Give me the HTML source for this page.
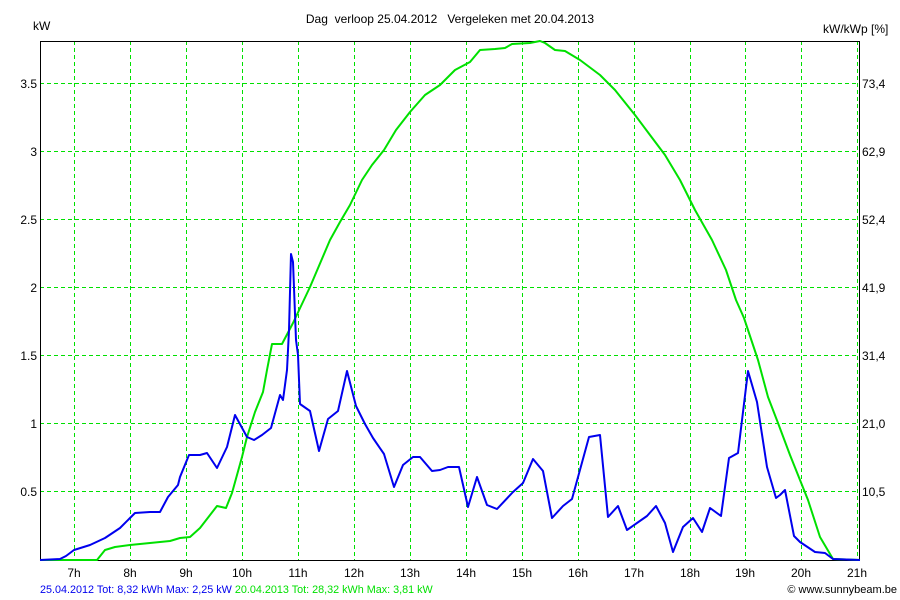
<!DOCTYPE html>
<html><head><style>
html,body{margin:0;padding:0;background:#fff;}
svg{display:block;font-family:"Liberation Sans",Arial,sans-serif;}
text{white-space:pre;}
</style></head><body>
<svg width="900" height="600" viewBox="0 0 900 600" xml:space="preserve">
<rect width="900" height="600" fill="#fff"/>
<g stroke="#00e000" stroke-width="1" stroke-dasharray="4,3" fill="none">
<line x1="74.5" y1="41" x2="74.5" y2="560"/>
<line x1="130.5" y1="41" x2="130.5" y2="560"/>
<line x1="186.5" y1="41" x2="186.5" y2="560"/>
<line x1="242.5" y1="41" x2="242.5" y2="560"/>
<line x1="298.5" y1="41" x2="298.5" y2="560"/>
<line x1="354.5" y1="41" x2="354.5" y2="560"/>
<line x1="410.5" y1="41" x2="410.5" y2="560"/>
<line x1="466.5" y1="41" x2="466.5" y2="560"/>
<line x1="522.5" y1="41" x2="522.5" y2="560"/>
<line x1="578.5" y1="41" x2="578.5" y2="560"/>
<line x1="634.5" y1="41" x2="634.5" y2="560"/>
<line x1="690.5" y1="41" x2="690.5" y2="560"/>
<line x1="745.5" y1="41" x2="745.5" y2="560"/>
<line x1="801.5" y1="41" x2="801.5" y2="560"/>
<line x1="857.5" y1="41" x2="857.5" y2="560"/>
<line x1="40" y1="83.5" x2="860" y2="83.5"/>
<line x1="40" y1="151.5" x2="860" y2="151.5"/>
<line x1="40" y1="219.5" x2="860" y2="219.5"/>
<line x1="40" y1="287.5" x2="860" y2="287.5"/>
<line x1="40" y1="355.5" x2="860" y2="355.5"/>
<line x1="40" y1="423.5" x2="860" y2="423.5"/>
<line x1="40" y1="491.5" x2="860" y2="491.5"/>
</g>
<rect x="40.5" y="41.5" width="819" height="519" fill="none" stroke="#000" stroke-width="1"/>
<polyline fill="none" stroke="#00e000" stroke-width="2" stroke-linejoin="round" points="40,560 97,560 105,550 115,547 130,545 150,543 170,541 180,538 190,537 200,528 217,506 226,508 232,493 242,457 247,437 255,412 263,392 267,370 272,344 282,344 293,323 310,287 330,240 340,222 350,205 362,180 372,165 384,150 396,130 410,112 425,95 440,85 455,70 470,62 480,50 495,49 505,48 512,44 530,43 540,41 545,43 555,50 565,51 580,60 600,75 615,90 635,115 650,135 665,155 680,180 695,210 712,240 726,270 736,300 744,318 758,360 768,397 778,423 790,455 800,480 808,500 820,537 833,559 860,560"/>
<polyline fill="none" stroke="#0000ee" stroke-width="2" stroke-linejoin="round" points="40,560 60,559 66,556 74,550 90,545 105,538 120,528 130,518 135,513 150,512 160,512 168,497 178,485 180,477 189,455 200,455 207,453 217,468 227,447 235,415 247,437 254,440 262,435 271,428 280,395 283,400 287,370 289,330 291,254 293,262 296,340 298,355 300,404 310,411 319,451 328,419 338,411 347,371 356,406 365,424 373,438 384,454 394,487 403,465 413,457 420,457 432,471 440,470 448,467 459,467 468,507 477,477 487,505 497,509 513,492 523,483 533,459 543,471 552,518 563,506 572,499 589,437 600,435 608,517 618,506 627,530 647,516 656,506 665,523 673,552 683,527 693,518 702,532 710,508 721,516 729,458 738,453 748,371 757,402 767,467 776,498 780,495 785,490 794,536 800,542 815,552 825,553 833,559 860,560"/>
<g font-size="12" fill="#000">
<text x="33" y="30">kW</text>
<text x="823" y="33">kW/kWp [%]</text>
<text x="450" y="23" text-anchor="middle">Dag  verloop 25.04.2012   Vergeleken met 20.04.2013</text>
<g text-anchor="end">
<text x="37" y="88">3.5</text>
<text x="37" y="156">3</text>
<text x="37" y="224">2.5</text>
<text x="37" y="292">2</text>
<text x="37" y="360">1.5</text>
<text x="37" y="428">1</text>
<text x="37" y="496">0.5</text>
</g>
<g>
<text x="862" y="88">73,4</text>
<text x="862" y="156">62,9</text>
<text x="862" y="224">52,4</text>
<text x="862" y="292">41,9</text>
<text x="862" y="360">31,4</text>
<text x="862" y="428">21,0</text>
<text x="862" y="496">10,5</text>
</g>
<g text-anchor="middle">
<text x="74" y="577">7h</text>
<text x="130" y="577">8h</text>
<text x="186" y="577">9h</text>
<text x="242" y="577">10h</text>
<text x="298" y="577">11h</text>
<text x="354" y="577">12h</text>
<text x="410" y="577">13h</text>
<text x="466" y="577">14h</text>
<text x="522" y="577">15h</text>
<text x="578" y="577">16h</text>
<text x="634" y="577">17h</text>
<text x="690" y="577">18h</text>
<text x="745" y="577">19h</text>
<text x="801" y="577">20h</text>
<text x="857" y="577">21h</text>
</g>
</g>
<text x="40" y="593" font-size="10.8" fill="#0000ee">25.04.2012 Tot: 8,32 kWh Max: 2,25 kW <tspan fill="#00e000">20.04.2013 Tot: 28,32 kWh Max: 3,81 kW</tspan></text>
<text x="897" y="593" font-size="11" fill="#000" text-anchor="end">© www.sunnybeam.be</text>
</svg>
</body></html>
